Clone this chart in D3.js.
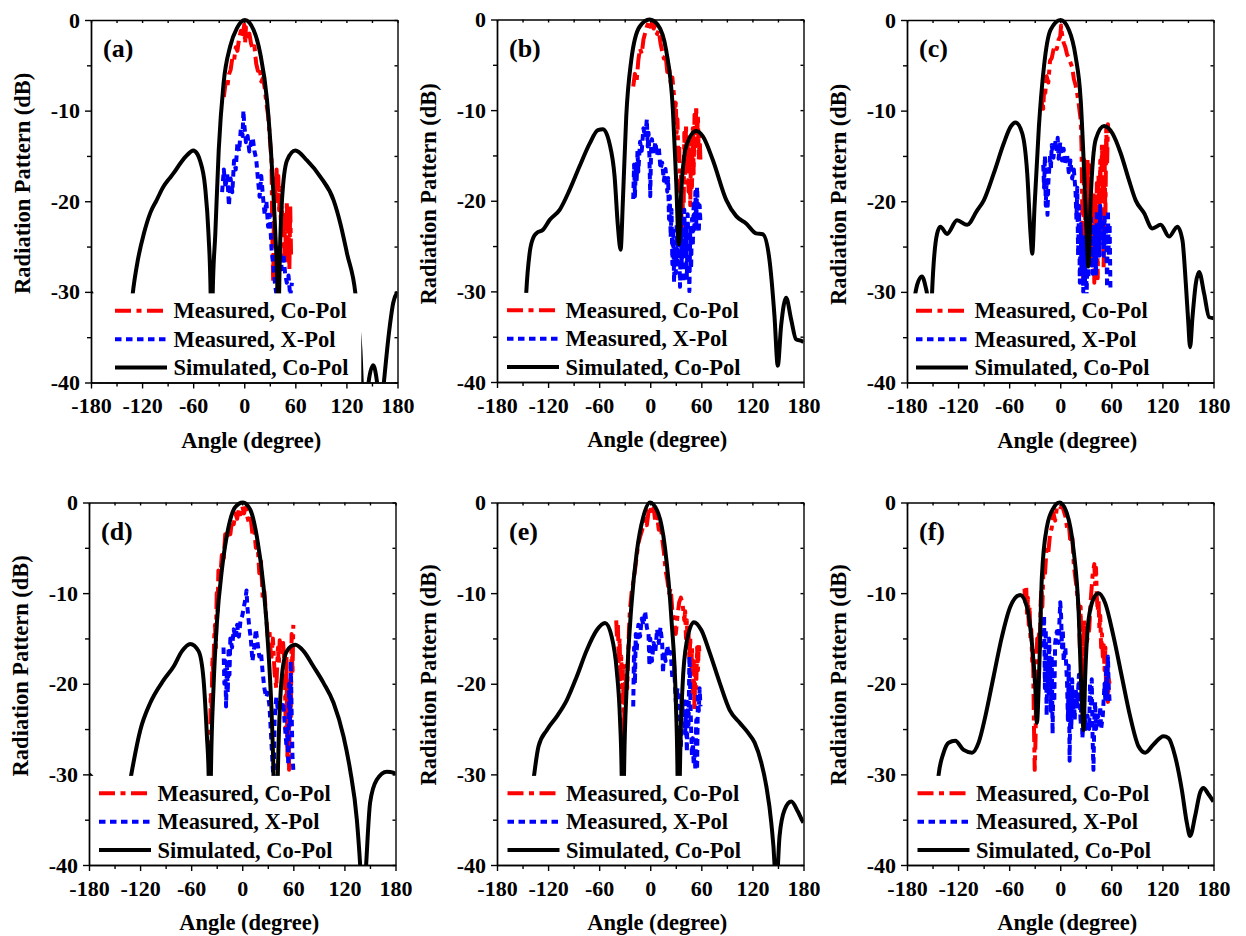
<!DOCTYPE html>
<meta charset="utf-8">
<head>
<style>
  body { margin: 0; background: #fff; }
  svg text { font-family: "Times New Roman", "Liberation Serif", serif; font-weight: bold; fill: #000; }
</style>
</head>
<body>
<div id="chart"></div>
<script src="https://d3js.org/d3.v7.min.js"></script>
<script>
// tick labels
var xMajor = [-180, -120, -60, 0, 60, 120, 180];
var xMinor = [-150, -90, -30, 30, 90, 150];
var yMajor = [0, -10, -20, -30, -40];
var yMinor = [-5, -15, -25, -35];

var seriesNames = ["Measured, Co-Pol", "Measured, X-Pol", "Simulated, Co-Pol"];

// ---- (a) ----
var coA = [[-24,-8.5],[-22,-7],[-20,-7.5],[-18,-6],[-16,-5.5],[-14,-4.2],[-12,-4.5],[-10,-3],[-8,-3.4],[-6,-2],[-4,-1.2],[-2,-1.8],[0,-0.5],[1,-2.6],[2,-0.8],[4,-2.2],[6,-1.5],[8,-2.6],[10,-3.2],[12,-2.9],[14,-4.8],[16,-5.6],[18,-5.2],[20,-6.8],[22,-6.4],[24,-7.5],[26,-9.2],[28,-10.5],[30,-13],[32,-15.5],[33,-24],[34,-29],[35,-20],[36,-17.5],[37,-19.5],[38,-16.5],[39,-20],[40,-17.2],[41,-21],[42,-18.5],[43,-22.5],[44,-20.5],[46,-23],[47,-26],[48,-21.5],[49,-27],[50,-20],[51,-25.5],[52,-22],[53,-27.5],[54,-20.5],[55,-26]];
var xpA = [[-26,-19],[-24,-16.5],[-22,-18.5],[-20,-17],[-18,-20.5],[-16,-17.5],[-14,-19],[-12,-15.5],[-10,-16.5],[-8,-13.5],[-6,-14.5],[-4,-12],[-2,-12.8],[-1,-10],[0,-11.5],[2,-13.5],[4,-12.8],[6,-14.5],[8,-13.5],[10,-13],[12,-14.5],[14,-15.3],[16,-17.5],[18,-19.5],[20,-17.2],[22,-19.5],[24,-21.5],[26,-20],[28,-22.8],[30,-21.5],[32,-25.2],[34,-27],[36,-29],[38,-30.5],[40,-26.5],[42,-25],[44,-27.5],[46,-25.8],[48,-28],[50,-29],[52,-28.2],[54,-30.5],[56,-29]];
var simA = [[-180,-30],[-176,-31.5],[-172,-35],[-168,-41],[-164,-45],[-160,-40],[-154,-37],[-148,-40],[-142,-45],[-138,-40],[-134,-33],[-131,-30.2],[-125,-26.5],[-118,-23.6],[-110,-21.2],[-103,-19.9],[-95,-18.4],[-88,-17.5],[-83,-16.9],[-75,-15.8],[-67,-14.9],[-60,-14.4],[-55,-14.8],[-52,-15.5],[-46,-18.4],[-42,-23.6],[-39.5,-30.2],[-38.3,-46],[-37,-30],[-34,-23.6],[-30,-14.4],[-24.3,-7],[-16.5,-2.9],[-8.6,-0.9],[0.8,0],[11,-1.1],[18.8,-3.7],[26.7,-8.8],[32.5,-16.2],[36.5,-23.6],[39,-30.2],[40,-46],[41,-30],[44.3,-19.9],[50.2,-15.5],[60,-14.4],[73.7,-15.5],[89.4,-17.3],[105,-19.9],[113,-22.5],[120.8,-25.8],[130.6,-30.2],[134,-33.5],[136.5,-36.5],[138.5,-41],[142,-44],[146,-40],[151.4,-38.1],[156,-40],[160,-44],[164,-40],[170,-34.5],[175,-31.2],[180,-30]];

// ---- (b) ----
var coB = [[-20,-7.4],[-18,-6],[-16,-6.8],[-14,-4.5],[-12,-3.2],[-10,-3.8],[-8,-2.2],[-6,-1.5],[-4,-0.8],[-2,-0.3],[0,-0.8],[2,-0.4],[4,-1],[6,-0.6],[8,-1.6],[10,-1.2],[12,-2.6],[14,-3.5],[16,-4.3],[18,-3.9],[20,-5.8],[22,-5.2],[24,-7],[26,-6.4],[28,-8.5],[29,-10.5],[30,-9.2],[31,-12.5],[32,-11],[33,-15.5],[34,-13.8],[35,-19],[36,-17],[37,-24],[38,-20],[39,-23.5],[40,-12.5],[41,-18],[42,-11.5],[43,-16],[44,-13],[45,-19],[46,-15.5],[47,-20.5],[48,-13.5],[49,-18.5],[50,-12],[51,-17],[52,-10.5],[53,-14],[54,-9.5],[55,-13.5],[56,-10.5],[57,-15.5],[58,-12.8],[59,-15.8]];
var xpB = [[-20,-19.8],[-19,-16],[-18,-19.5],[-17,-16.5],[-16,-18],[-15,-14.5],[-14,-16.8],[-12,-13.5],[-10,-14.5],[-8,-12],[-6,-13],[-4,-11],[-3,-14],[-2,-12.5],[-1,-15],[0,-19.5],[1,-14.2],[2,-13.2],[4,-14.8],[6,-13.5],[8,-15],[10,-14],[12,-16.5],[14,-15.8],[16,-17.8],[18,-16.5],[20,-19],[21,-17.5],[22,-22],[23,-19.5],[24,-24],[25,-21],[26,-27],[27,-23],[28,-29],[29,-24.5],[30,-28],[31,-22.5],[32,-27],[33,-21],[34,-25],[35,-29.5],[36,-21.5],[37,-27],[38,-23],[39,-29],[40,-21],[41,-25.5],[42,-22.5],[43,-28.5],[44,-21.5],[45,-26],[46,-30],[47,-23],[48,-27.5],[49,-22],[50,-25],[51,-20],[52,-23.5],[53,-19],[54,-22.5],[55,-18.5],[56,-21],[57,-23.5],[58,-20.5],[59,-22.5]];
var simB = [[-180,-35.5],[-172,-35],[-166,-33],[-160,-31],[-155,-33.5],[-150,-38],[-147,-33],[-145.6,-30.1],[-141.7,-25.8],[-137,-24],[-133.8,-23.6],[-126,-23.2],[-118,-22.1],[-106.4,-21],[-94.7,-18.8],[-83,-16.2],[-71.2,-13.7],[-61.5,-12.2],[-55.6,-12.1],[-47.8,-13.7],[-41.9,-17.3],[-38,-22.8],[-34.8,-25.4],[-32.1,-19.9],[-28.2,-10.7],[-22.3,-4.5],[-12.5,-0.8],[-0.8,0],[9,-0.6],[18.7,-3.4],[26.6,-10],[30.5,-18],[33.6,-24.8],[36.3,-19.2],[42.2,-14],[54,-12.3],[61.8,-12.9],[73.5,-15.5],[89.2,-19.9],[101,-21.7],[112.6,-22.5],[124.4,-23.6],[132.2,-23.7],[140,-26.5],[145.9,-32.7],[149.8,-38.2],[153.7,-33.8],[159.6,-30.7],[165.5,-33.1],[171.3,-35.3],[178.4,-35.5],[180,-35.6]];

// ---- (c) ----
var coC = [[-22,-10],[-21,-8.5],[-20,-9.8],[-19,-7.8],[-18,-8.5],[-16,-6.2],[-14,-6.9],[-12,-4.5],[-10,-4.2],[-8,-3.3],[-6,-2.8],[-4,-3.2],[-2,-2.2],[0,-1.8],[1,-0.6],[2,-1.5],[4,-2.5],[6,-3],[8,-3.8],[10,-4.2],[12,-4.7],[14,-5.2],[16,-6.5],[18,-7.2],[20,-8.2],[22,-9.5],[24,-11],[25,-14],[26,-22],[27,-29],[28,-15],[29,-24],[30,-16.5],[31,-27],[32,-15.2],[33,-22],[34,-16],[35,-25],[36,-18],[37,-21.5],[38,-27],[39,-19],[40,-29],[41,-20],[42,-25],[43,-18],[44,-28.5],[45,-17],[46,-22],[47,-15.5],[48,-20],[49,-13.5],[50,-18],[51,-27.5],[52,-14],[53,-22],[54,-12],[55,-16],[56,-11.5],[57,-13]];
var xpC = [[-20,-16],[-19,-18.5],[-18,-15],[-17,-20.5],[-16,-17.5],[-15,-21.5],[-14,-18],[-12,-15],[-11,-16.5],[-10,-13.8],[-8,-15.2],[-6,-13.2],[-4,-14.5],[-3,-13],[-2,-15.3],[0,-13.5],[2,-15.5],[4,-14.2],[6,-16],[8,-14.8],[10,-16.8],[12,-15.5],[14,-17.5],[16,-16.5],[18,-19],[19,-22],[20,-18.5],[21,-26],[22,-20.5],[23,-29],[24,-22.5],[25,-28],[26,-23.5],[27,-30],[28,-24],[29,-29],[30,-26],[31,-30.5],[32,-25],[33,-28.5],[34,-22],[35,-27],[36,-21.5],[37,-25],[38,-28],[39,-22.5],[40,-26.5],[41,-23],[42,-28],[43,-21],[44,-25],[45,-22.5],[46,-26],[47,-20.5],[48,-24.5],[50,-22],[51,-26],[52,-21.5],[53,-25],[54,-23],[55,-29.5],[56,-21],[57,-26],[58,-22.5],[59,-30]];
var simC = [[-180,-33],[-176,-32.5],[-172,-31],[-168,-29.2],[-162.4,-28.3],[-158,-29.5],[-156.5,-30.2],[-154,-33],[-152,-34],[-150.6,-30.2],[-144.7,-23.6],[-140.8,-22.8],[-133,-23.6],[-121.2,-22.1],[-109.4,-22.6],[-97.6,-21],[-89.8,-19.9],[-78,-16.9],[-66.3,-13.6],[-58.4,-11.8],[-52.5,-11.3],[-44.7,-12.5],[-38.8,-16.9],[-34.9,-23.6],[-32.9,-25.8],[-30.2,-20.6],[-25.1,-11.8],[-19.2,-5.2],[-11.4,-1.1],[0.4,0],[10.2,-1.1],[18,-4],[24,-8.8],[27.8,-16.2],[31,-23.6],[33,-27.2],[35.7,-19.9],[41.6,-13.2],[51.4,-11.7],[61.2,-12.5],[71,-14.7],[80.8,-17.7],[88.6,-19.9],[98.4,-21.3],[108.2,-23],[118,-22.6],[127.8,-23.9],[137.6,-22.8],[143.5,-24.3],[147.5,-29.1],[150.2,-33.1],[152.5,-36.1],[155.3,-32.8],[159.2,-29.1],[163.1,-27.8],[169,-30.2],[174.9,-32.8],[180,-32.9]];

// ---- (d) ----
var coD = [[-38,-28],[-37,-21],[-36,-22.5],[-35,-17],[-34,-19],[-33,-15],[-32,-13.5],[-31,-16],[-30,-10],[-29,-12],[-28,-7.5],[-26,-8.5],[-24,-5.8],[-22,-6.5],[-20,-3.5],[-18,-4],[-16,-2.8],[-14,-3.5],[-12,-2],[-10,-2.4],[-8,-1.2],[-6,-1.8],[-4,-0.7],[-2,-1.3],[0,-0.4],[2,-1.2],[4,-0.6],[6,-1.6],[8,-2.3],[10,-1.8],[12,-3.5],[14,-3],[16,-5],[18,-4.5],[20,-7.8],[22,-6.5],[24,-10.5],[26,-9.8],[28,-12.5],[30,-14.8],[32,-14.2],[34,-17.5],[36,-15],[38,-18.8],[40,-20.5],[41,-18],[42,-16],[43,-17.8],[44,-15.2],[46,-16.5],[48,-15.5],[50,-18.5],[51,-25],[52,-17],[53,-28],[54,-19.5],[55,-29.5],[56,-21],[57,-24],[58,-14.5],[59,-19],[60,-13.5]];
var xpD = [[-22,-16],[-21,-20],[-20,-17.5],[-19,-22.5],[-18,-18],[-17,-21],[-16,-16],[-15,-19],[-14,-15],[-12,-16],[-10,-14],[-8,-15],[-6,-13.5],[-4,-14.8],[-2,-13],[0,-12.5],[2,-11.5],[4,-10.5],[5,-9.7],[6,-11.5],[8,-13.5],[10,-15],[12,-17.5],[14,-16],[16,-14],[18,-15.5],[20,-17],[22,-16.5],[24,-18.8],[26,-20.5],[28,-21.5],[30,-21],[32,-22.5],[34,-26],[36,-29.5],[37,-30.5],[38,-24],[40,-21.5],[42,-23],[44,-21.8],[46,-23],[48,-22],[50,-24.5],[52,-27],[53,-25],[54,-29],[55,-20],[56,-24.5],[57,-17.5],[58,-23],[59,-28],[60,-29.5]];
var simD = [[-180,-30],[-175,-30.5],[-168,-32],[-160,-36],[-152,-44],[-146,-44],[-140,-36],[-134,-32],[-130.3,-30],[-119.7,-25.1],[-108,-22.1],[-92.4,-19.6],[-80.6,-18.1],[-70.8,-16.4],[-61,-15.6],[-51.3,-16.4],[-45.4,-19.6],[-41.5,-25.8],[-39.5,-30],[-38.2,-46],[-36.8,-30],[-33.7,-20.3],[-29.8,-13.3],[-23.9,-7.4],[-16.1,-2.7],[-8.2,-0.5],[0.8,0],[9.4,-0.8],[17.2,-3.8],[25,-9.3],[30.9,-16.6],[34.8,-24],[36.7,-30],[39,-46],[41.8,-30],[46.5,-19.2],[52.4,-16.4],[62.2,-15.7],[72,-16.4],[83.7,-18.1],[95.4,-19.9],[107.2,-22.1],[118.9,-25.8],[126.7,-29.5],[134.6,-35],[138.5,-40],[142,-46],[145.5,-40],[150.2,-33.1],[158,-30.6],[169.8,-29.7],[177.6,-29.8],[180,-30]];

// ---- (e) ----
var coE = [[-40,-13],[-39,-15],[-38,-13.5],[-37,-17.5],[-36,-15],[-35,-19.5],[-34,-17],[-33,-22],[-32,-18],[-31,-26],[-30,-20],[-29,-21.5],[-28,-18],[-27,-20.5],[-26,-17],[-25,-14],[-24,-12],[-22,-10],[-20,-8.8],[-18,-7.5],[-16,-6],[-14,-4.5],[-12,-3.8],[-10,-3.2],[-8,-2.5],[-6,-1.8],[-4,-2.5],[-2,-1],[0,-0.4],[2,-1.4],[4,-0.6],[6,-2.2],[8,-1.5],[10,-3],[12,-2.2],[14,-4],[16,-5.5],[18,-7.5],[20,-8.5],[22,-10],[24,-9.5],[26,-12],[28,-13],[30,-14.5],[32,-12.5],[34,-11],[36,-10.5],[38,-11.2],[40,-13],[41,-12],[42,-15],[43,-13],[44,-16],[45,-14.5],[46,-17.5],[47,-15],[48,-19],[49,-16],[50,-21],[51,-17.5],[52,-23],[53,-18],[54,-20.5],[55,-16],[56,-18.5],[57,-15.5],[58,-17]];
var xpE = [[-20,-22.5],[-19,-16],[-18,-20],[-17,-14.5],[-16,-16.5],[-14,-13.5],[-12,-14.8],[-10,-12.8],[-8,-13.5],[-6,-12],[-4,-13.8],[-2,-14.5],[-1,-18],[0,-15],[2,-17.5],[4,-15.5],[6,-16.5],[8,-14],[10,-15.5],[12,-13.8],[14,-15.5],[15,-18.8],[16,-16.5],[18,-17.5],[20,-15.8],[22,-17],[24,-16.5],[26,-19.5],[28,-18],[30,-22],[32,-20.5],[34,-24.5],[36,-27],[37,-21],[38,-23],[40,-21.5],[41,-25.5],[42,-23],[43,-27.5],[44,-22],[45,-24.5],[46,-17],[47,-21],[48,-25],[49,-28],[50,-26],[51,-29],[52,-27.5],[53,-29.5],[54,-24],[55,-29.5],[56,-21],[57,-23],[58,-20.5],[59,-22.5]];
var simE = [[-180,-35],[-172,-34],[-165,-33],[-158,-34],[-152,-37],[-148,-44],[-144,-38],[-140,-33],[-136.3,-30],[-131.2,-26.9],[-121.4,-25.1],[-109.7,-23.6],[-98,-21.8],[-86.3,-19.2],[-74.6,-16.3],[-62.9,-14.1],[-53.1,-13.3],[-45.3,-14.8],[-39.4,-18.5],[-35.5,-24],[-33.6,-30],[-32.2,-46],[-30.8,-30],[-27.7,-20.3],[-21.9,-11.1],[-16,-5.6],[-8.2,-1.6],[-0.4,0],[9.4,-1.2],[17.2,-4.9],[25,-13],[30.1,-22.1],[32,-30],[33.4,-46],[34.8,-30],[37.9,-20.3],[42.6,-15.5],[51.2,-13.2],[60.1,-14.1],[69.9,-16.6],[81.6,-19.9],[93.3,-22.9],[105,-24.3],[114.8,-25.4],[122.6,-26.5],[130.4,-28.7],[136.3,-31.3],[142.1,-35.3],[146,-40],[148,-45],[150,-40],[151.9,-36.8],[157.8,-33.9],[165.6,-33],[173.4,-34.1],[179.2,-35.2],[180,-35.3]];

// ---- (f) ----
var coF = [[-42,-9.5],[-41,-11],[-40,-9.2],[-39,-12.5],[-38,-10.5],[-37,-13.5],[-36,-11.5],[-35,-15],[-34,-14],[-33,-17.5],[-32,-16],[-31,-24],[-30,-29.5],[-29,-26],[-28,-17],[-27,-15],[-26,-16.2],[-25,-14.5],[-24,-16],[-23,-11],[-22,-9.5],[-21,-11.5],[-20,-8],[-19,-6.5],[-18,-8],[-16,-5],[-14,-5.5],[-12,-3.5],[-10,-2.8],[-8,-1.2],[-6,-2],[-4,-0.6],[-2,-0.3],[0,-0.5],[2,-0.3],[4,-0.9],[6,-1.5],[8,-2.8],[10,-2.3],[12,-4.5],[14,-3.5],[16,-7],[18,-8.5],[20,-10.2],[22,-12],[23,-16],[24,-11.5],[25,-19.5],[26,-15],[27,-20],[28,-13],[30,-16],[32,-15],[34,-14],[36,-10.5],[38,-8],[40,-6.8],[41,-9],[42,-7.2],[43,-10.5],[44,-12],[45,-10.8],[46,-14],[47,-12.5],[48,-16],[49,-14.5],[50,-17],[51,-15.5],[52,-18.5],[53,-16],[54,-21.5],[55,-17.5],[56,-22],[57,-19.5],[58,-20]];
var xpF = [[-20,-16],[-19,-12.5],[-18,-20.5],[-17,-14],[-16,-23.5],[-15,-17.5],[-14,-21],[-13,-15],[-12,-18.5],[-11,-23],[-10,-17],[-9,-25.5],[-8,-19],[-7,-22],[-6,-15.5],[-4,-14.2],[-2,-15.5],[0,-11],[1,-12.5],[2,-16],[3,-14],[4,-17.5],[6,-16],[8,-20],[9,-24],[10,-18],[11,-28.5],[12,-21],[13,-25],[14,-19.5],[15,-23.5],[16,-21],[17,-24],[18,-20.5],[20,-22.5],[22,-19],[24,-24.5],[25,-21],[26,-26],[28,-23],[30,-25],[32,-23.5],[34,-25],[35,-20],[36,-22.5],[37,-19.5],[38,-26],[39,-29.5],[40,-24],[41,-22],[42,-25],[44,-23.5],[46,-24.5],[47,-22.5],[48,-25],[50,-23.5],[52,-20],[53,-22],[54,-18],[55,-21.5],[56,-17],[57,-20.5],[58,-22]];
var simF = [[-180,-33],[-172,-31.5],[-165,-32],[-158,-34.5],[-152,-36.8],[-148,-35],[-145,-32],[-142.8,-30],[-137,-27.6],[-131.1,-26.5],[-123.3,-26.3],[-113.5,-27.3],[-103.7,-27.6],[-95.9,-26.5],[-88,-23.6],[-78.3,-19.2],[-68.5,-14.8],[-58.7,-11.5],[-47,-10.2],[-39.2,-11.5],[-33.3,-15.5],[-29.4,-20.3],[-27.4,-24.3],[-24.7,-18.5],[-21.6,-8.2],[-15.7,-2.7],[-7.9,-0.6],[-0.8,0],[7.8,-1.2],[15.6,-5.2],[21.5,-11.9],[25.4,-22.1],[27.4,-25.1],[29.3,-19.2],[33.2,-13],[39.1,-10.6],[45,-10],[52.8,-11.1],[62.6,-14.8],[72.3,-19.2],[82.1,-23.6],[91.9,-26.9],[99.7,-27.6],[109.5,-26.7],[121.3,-25.8],[127.1,-26],[134.9,-28],[142.8,-31.7],[148.6,-35.3],[152.5,-36.8],[158.4,-34.6],[164.3,-32],[168.2,-31.5],[174.1,-32.2],[180,-33]];

// layout of the six panels
var W = 306.5, H = 362.5;
var panels = [
  {tag: "(a)", left: 91,  top: 20,    co: coA, xp: xpA, sim: simA, legDx: 24,   titleDy: -18},
  {tag: "(b)", left: 497, top: 19.5,  co: coB, xp: xpB, sim: simB, legDx: 10,   titleDy: -7},
  {tag: "(c)", left: 907, top: 20,    co: coC, xp: xpC, sim: simC, legDx: 9,    titleDy: -7},
  {tag: "(d)", left: 89,  top: 502.5, co: coD, xp: xpD, sim: simD, legDx: 10,   titleDy: -18},
  {tag: "(e)", left: 497, top: 502.5, co: coE, xp: xpE, sim: simE, legDx: 10.5, titleDy: -9},
  {tag: "(f)", left: 907, top: 502.5, co: coF, xp: xpF, sim: simF, legDx: 10.5, titleDy: -9}
];

var styles = [
  {color: "#ff0000", dash: "16,5.5,5,5.5"},
  {color: "#0000ff", dash: "6.5,4.5"},
  {color: "#000000", dash: null}
];

var svg = d3.select("#chart").append("svg")
  .attr("width", 1246)
  .attr("height", 936)
  .style("background", "#fff");

function styleAxis(sel, size) {
  sel.attr("font-family", "'Times New Roman', 'Liberation Serif', serif")
     .attr("font-size", size)
     .attr("font-weight", "bold");
  sel.select(".domain").attr("stroke-width", 1.4);
  sel.selectAll(".tick line").attr("stroke-width", 1.4);
}

panels.forEach(function(p, i) {
  var x = d3.scaleLinear().domain([-180, 180]).range([0, W]);
  var y = d3.scaleLinear().domain([-40, 0]).range([H, 0]);

  var g = svg.append("g")
    .attr("transform", "translate(" + p.left + "," + p.top + ")");

  g.append("clipPath").attr("id", "clip" + i)
    .append("rect")
      .attr("x", 0).attr("y", -6)
      .attr("width", W).attr("height", H + 6);

  var jagged = d3.line()
    .x(function(d) { return x(d[0]); })
    .y(function(d) { return y(d[1]); });
  var smooth = d3.line()
    .x(function(d) { return x(d[0]); })
    .y(function(d) { return y(d[1]); })
    .curve(d3.curveMonotoneX);

  var plot = g.append("g").attr("clip-path", "url(#clip" + i + ")");

  // measured co-pol, measured x-pol, simulated co-pol
  [p.co, p.xp, p.sim].forEach(function(s, k) {
    plot.append("path")
      .datum(s)
      .attr("d", k == 2 ? smooth : jagged)
      .attr("fill", "none")
      .attr("stroke", styles[k].color)
      .attr("stroke-width", 4)
      .attr("stroke-linejoin", "round")
      .attr("stroke-dasharray", styles[k].dash);
  });

  // legend (white box hides the curves below -30 dB)
  var legW = p.legDx + 52 + 6.5 + 174 + 13;
  g.append("rect")
    .attr("x", 0.8)
    .attr("y", y(-30) + 1.5)
    .attr("width", legW)
    .attr("height", y(-40) - y(-30) - 1.5)
    .attr("fill", "#fff");

  var rows = [290.7, 319.3, 347.6];
  seriesNames.forEach(function(name, k) {
    g.append("line")
      .attr("x1", p.legDx).attr("x2", p.legDx + 52)
      .attr("y1", rows[k]).attr("y2", rows[k])
      .attr("stroke", styles[k].color)
      .attr("stroke-width", 4)
      .attr("stroke-dasharray", styles[k].dash);
    g.append("text")
      .attr("x", p.legDx + 58.5)
      .attr("y", rows[k] + 7.5)
      .attr("font-size", 22.5)
      .text(name);
  });

  // axes: bottom and left with outward ticks
  var bx = g.append("g").attr("transform", "translate(0," + H + ")")
    .call(d3.axisBottom(x).tickValues(xMajor).tickFormat(function(d) { return String(d); })
      .tickSizeInner(6).tickSizeOuter(0).tickPadding(9));
  styleAxis(bx, 22);
  var bxm = g.append("g").attr("transform", "translate(0," + H + ")")
    .call(d3.axisBottom(x).tickValues(xMinor).tickFormat("").tickSizeInner(4).tickSizeOuter(0));
  styleAxis(bxm, 22);

  var ly = g.append("g")
    .call(d3.axisLeft(y).tickValues(yMajor).tickFormat(function(d) { return String(d); })
      .tickSizeInner(6).tickSizeOuter(0).tickPadding(5));
  styleAxis(ly, 22);
  var lym = g.append("g")
    .call(d3.axisLeft(y).tickValues(yMinor).tickFormat("").tickSizeInner(4).tickSizeOuter(0));
  styleAxis(lym, 22);

  // top and right frame with small inward ticks
  var tx = g.append("g")
    .call(d3.axisTop(x).tickValues(xMajor.concat(xMinor)).tickFormat("").tickSizeInner(-3).tickSizeOuter(0));
  styleAxis(tx, 22);
  var ry = g.append("g").attr("transform", "translate(" + W + ",0)")
    .call(d3.axisRight(y).tickValues(yMajor.concat(yMinor)).tickFormat("").tickSizeInner(-3).tickSizeOuter(0));
  styleAxis(ry, 22);

  // titles
  g.append("text")
    .attr("transform", "translate(-61," + (H / 2 + p.titleDy) + ") rotate(-90)")
    .attr("text-anchor", "middle")
    .attr("font-size", 22.5)
    .text("Radiation Pattern (dB)");

  g.append("text")
    .attr("x", W / 2 + 7)
    .attr("y", H + 65)
    .attr("text-anchor", "middle")
    .attr("font-size", 22.5)
    .text("Angle (degree)");

  g.append("text")
    .attr("x", 12)
    .attr("y", 37)
    .attr("font-size", 26)
    .text(p.tag);
});
</script>
</body>
